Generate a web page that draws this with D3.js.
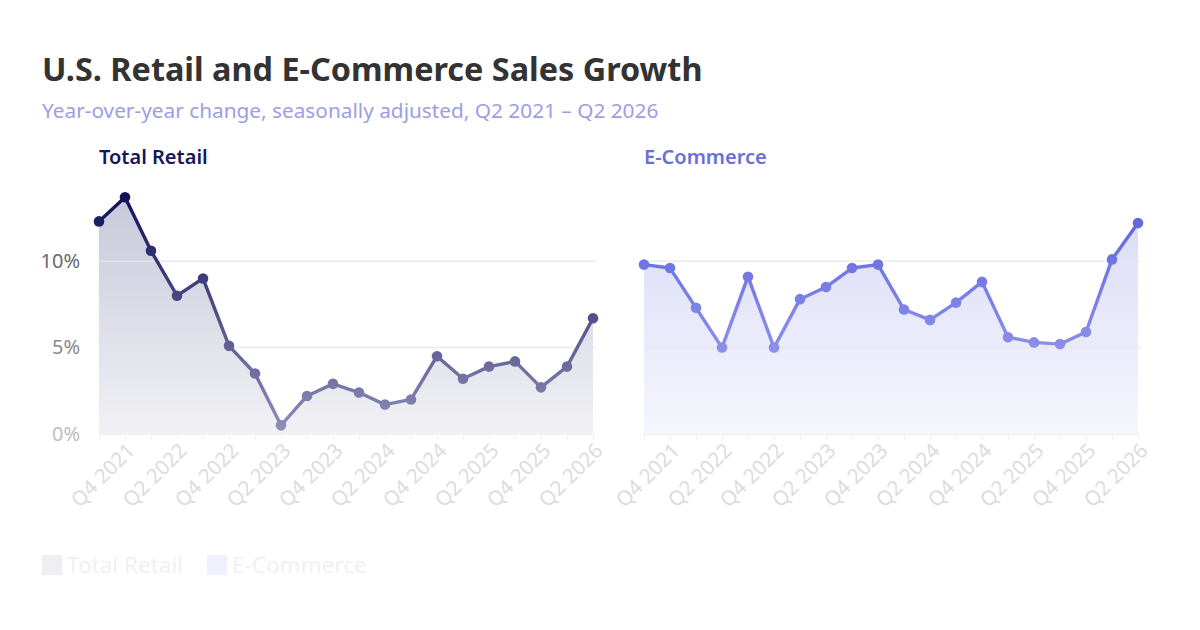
<!DOCTYPE html>
<html>
<head>
<meta charset="utf-8">
<script src="https://cdn.jsdelivr.net/npm/d3@7"></script>
<style>
  body { margin: 0; background: #fff; }
  svg { display: block; font-family: "Noto Sans", "Open Sans", sans-serif; }
</style>
</head>
<body>
<svg id="chart"></svg>
<script>
// Quarters shown on the x axis (Q3 2021 .. Q2 2026)
var quarters = ["Q3 2021", "Q4 2021", "Q1 2022", "Q2 2022", "Q3 2022", "Q4 2022",
  "Q1 2023", "Q2 2023", "Q3 2023", "Q4 2023", "Q1 2024", "Q2 2024", "Q3 2024",
  "Q4 2024", "Q1 2025", "Q2 2025", "Q3 2025", "Q4 2025", "Q1 2026", "Q2 2026"];

// YoY change, %
var totalRetail = [12.3, 13.7, 10.6, 8.0, 9.0, 5.1, 3.5, 0.5, 2.2, 2.9, 2.4, 1.7,
  2.0, 4.5, 3.2, 3.9, 4.2, 2.7, 3.9, 6.7];
var eCommerce = [9.8, 9.6, 7.3, 5.0, 9.1, 5.0, 7.8, 8.5, 9.6, 9.8, 7.2, 6.6,
  7.6, 8.8, 5.6, 5.3, 5.2, 5.9, 10.1, 12.2];

var yTicks = [0, 5, 10];
var tickLabels = quarters.filter(function (q) { return q.indexOf("Q4") === 0 || q.indexOf("Q2") === 0; });

var svgWidth = 1200;
var svgHeight = 630;

var svg = d3.select("#chart")
  .attr("width", svgWidth)
  .attr("height", svgHeight);

var defs = svg.append("defs");

// shared y scale
var yScale = d3.scaleLinear()
  .domain([0, 14])
  .range([434, 192]);

// Title
svg.append("text")
  .attr("x", 42)
  .attr("y", 81)
  .attr("fill", "#333333")
  .style("font-size", "32.4px")
  .style("font-weight", 700)
  .text("U.S. Retail and E-Commerce Sales Growth");

svg.append("text")
  .attr("x", 42)
  .attr("y", 118)
  .attr("fill", "#9c9ee2")
  .style("font-size", "20.8px")
  .text("Year-over-year change, seasonally adjusted, Q2 2021 \u2013 Q2 2026");

var panels = [
  { name: "Total Retail", values: totalRetail, x0: 99, x1: 593, titleColor: "#15165c",
    lineTop: "#0e0f56", lineBottom: "#9090bc", areaTop: "#c6c8da", areaBottom: "#f1f1f5", id: "retail" },
  { name: "E-Commerce", values: eCommerce, x0: 644, x1: 1138, titleColor: "#6b6fd8",
    lineTop: "#5a5fdc", lineBottom: "#a6a9f0", areaTop: "#d8daf7", areaBottom: "#f6f6fd", id: "ecom" }
];

panels.forEach(function (p, pi) {
  var xScale = d3.scalePoint()
    .domain(quarters)
    .range([p.x0, p.x1]);

  // gradients
  var lg = defs.append("linearGradient")
    .attr("id", "line-" + p.id)
    .attr("gradientUnits", "userSpaceOnUse")
    .attr("x1", 0).attr("x2", 0)
    .attr("y1", yScale(14)).attr("y2", yScale(0));
  lg.append("stop").attr("offset", "0%").attr("stop-color", p.lineTop);
  lg.append("stop").attr("offset", "100%").attr("stop-color", p.lineBottom);

  var ag = defs.append("linearGradient")
    .attr("id", "area-" + p.id)
    .attr("gradientUnits", "userSpaceOnUse")
    .attr("x1", 0).attr("x2", 0)
    .attr("y1", yScale(14)).attr("y2", yScale(0));
  ag.append("stop").attr("offset", "0%").attr("stop-color", p.areaTop);
  ag.append("stop").attr("offset", "100%").attr("stop-color", p.areaBottom);

  var g = svg.append("g");

  // panel title
  g.append("text")
    .attr("x", p.x0)
    .attr("y", 164)
    .attr("fill", p.titleColor)
    .style("font-size", "20px")
    .style("font-weight", 600)
    .text(p.name);

  var data = p.values.map(function (v, i) { return { q: quarters[i], v: v }; });

  // area
  var area = d3.area()
    .x(function (d) { return xScale(d.q); })
    .y0(yScale(0))
    .y1(function (d) { return yScale(d.v); });

  g.append("path")
    .datum(data)
    .attr("d", area)
    .attr("fill", "url(#area-" + p.id + ")");

  // gridlines
  g.selectAll(".grid")
    .data(yTicks.filter(function (t) { return t > 0; }))
    .enter()
    .append("line")
    .attr("class", "grid")
    .attr("x1", p.x0)
    .attr("x2", p.x1 + 3)
    .attr("y1", function (d) { return yScale(d); })
    .attr("y2", function (d) { return yScale(d); })
    .attr("stroke", "#e6e6ec")
    .attr("stroke-opacity", 0.8)
    .attr("stroke-width", 1.5);

  // x axis
  var xAxis = g.append("g")
    .attr("transform", "translate(0," + yScale(0) + ")")
    .call(d3.axisBottom(xScale).tickSize(6).tickFormat(function (d) {
      return tickLabels.indexOf(d) >= 0 ? d : "";
    }));
  xAxis.select(".domain").attr("stroke", "#f0f0f2").attr("stroke-width", 1);
  xAxis.selectAll(".tick line").attr("stroke", "#f0f0f2");
  xAxis.selectAll("text")
    .attr("fill", "#dcdcdc")
    .style("font-size", "20.5px")
    .style("font-family", "'Noto Sans', sans-serif")
    .style("text-anchor", "end")
    .attr("dx", "0.3em")
    .attr("dy", "0.75em")
    .attr("transform", "translate(-11,5) rotate(-45)");

  // y axis labels only on the first panel
  if (pi === 0) {
    var yColors = { 0: "#bdbdbd", 5: "#8a8a8a", 10: "#6a6a6a" };
    var yAxis = g.append("g")
      .attr("transform", "translate(" + (p.x0 - 16) + ",0)")
      .call(d3.axisLeft(yScale).tickValues(yTicks).tickSize(0).tickFormat(function (d) { return d + "%"; }));
    yAxis.select(".domain").remove();
    yAxis.selectAll("text")
      .attr("fill", function (d) { return yColors[d]; })
      .style("font-size", "20px")
      .style("font-family", "'Noto Sans', sans-serif");
  }

  // line
  var line = d3.line()
    .x(function (d) { return xScale(d.q); })
    .y(function (d) { return yScale(d.v); });

  g.append("path")
    .datum(data)
    .attr("d", line)
    .attr("fill", "none")
    .attr("stroke", "url(#line-" + p.id + ")")
    .attr("stroke-width", 3.4)
    .attr("stroke-linejoin", "round");

  g.selectAll(".dot")
    .data(data)
    .enter()
    .append("circle")
    .attr("class", "dot")
    .attr("cx", function (d) { return xScale(d.q); })
    .attr("cy", function (d) { return yScale(d.v); })
    .attr("r", 5.3)
    .attr("fill", "url(#line-" + p.id + ")");
});

// legend (faded)
var legend = svg.append("g").attr("transform", "translate(42,555)");
var legendItems = [
  { name: "Total Retail", swatch: "#efeff3", x: 0 },
  { name: "E-Commerce", swatch: "#eef0fb", x: 165 }
];
legendItems.forEach(function (l) {
  legend.append("rect")
    .attr("x", l.x)
    .attr("y", 0)
    .attr("width", 20)
    .attr("height", 20)
    .attr("fill", l.swatch);
  legend.append("text")
    .attr("x", l.x + 25)
    .attr("y", 18)
    .attr("fill", "#f1f1f3")
    .style("font-size", "22.5px")
    .text(l.name);
});
</script>
</body>
</html>
